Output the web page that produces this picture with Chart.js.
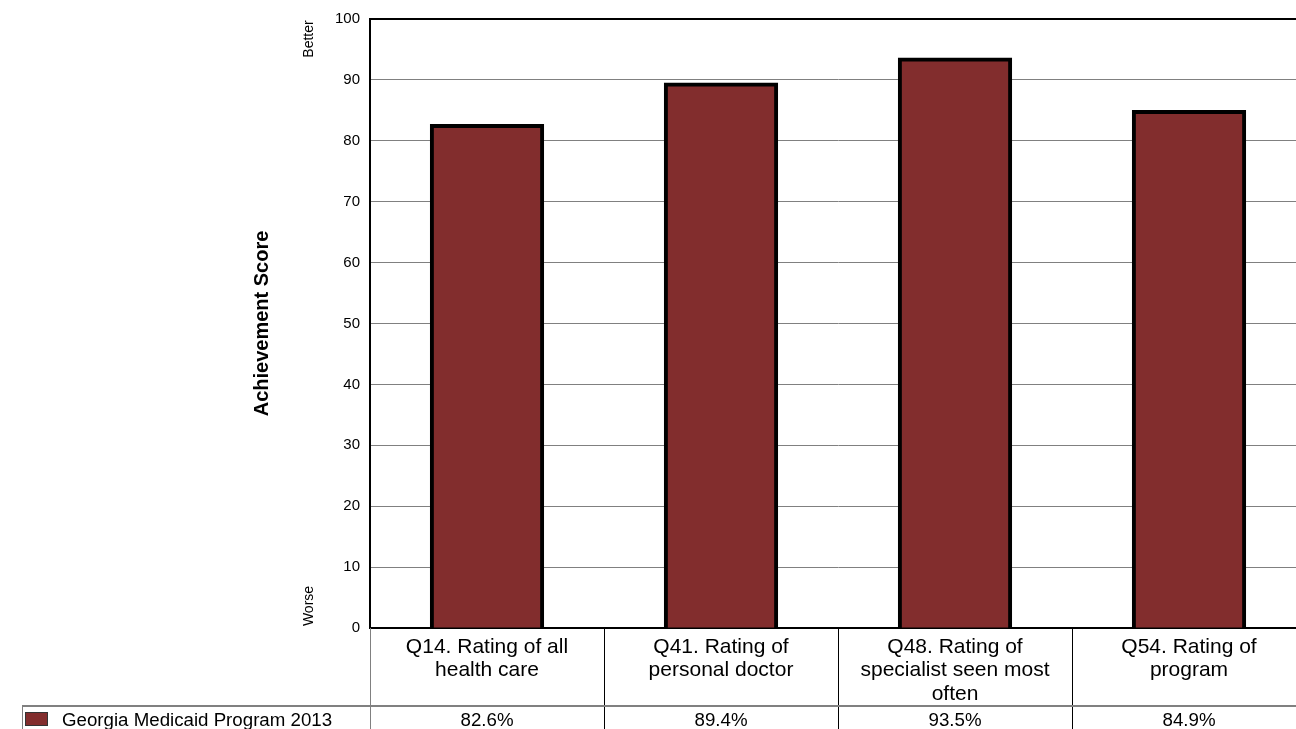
<!DOCTYPE html>
<html>
<head>
<meta charset="utf-8">
<script src="https://cdn.jsdelivr.net/npm/chart.js@4.4.1/dist/chart.umd.min.js"></script>
<style>
  html, body { margin: 0; padding: 0; background: #fff; overflow: hidden; }
  #wrap { width: 1310px; height: 729px; }
</style>
</head>
<body>
<div id="wrap"><canvas id="scoreChart" width="1310" height="729"></canvas></div>
<script>
// Survey items (wrapped onto lines as shown under the axis)
const questions = [
    ['Q14. Rating of all', 'health care'],
    ['Q41. Rating of', 'personal doctor'],
    ['Q48. Rating of', 'specialist seen most', 'often'],
    ['Q54. Rating of', 'program']
];
const seriesName = 'Georgia Medicaid Program 2013';
const scores = [82.6, 89.4, 93.5, 84.9];
const yTicks = [0, 10, 20, 30, 40, 50, 60, 70, 80, 90, 100];

const barColor = '#822d2d';
const fontFamily = 'Arial, "Liberation Sans", sans-serif';

// Table under the plot: column rules, series row and Better/Worse markers
const tablePlugin = {
    id: 'dataTable',
    afterDraw(chart) {
        const { ctx, chartArea, scales } = chart;
        const x = scales.x;
        const h = chart.height;
        const rowTop = 706;
        const half = (x.getPixelForValue(1) - x.getPixelForValue(0)) / 2;

        ctx.save();
        // left axis continues down through the table
        ctx.strokeStyle = '#808080';
        ctx.lineWidth = 1;
        ctx.beginPath();
        ctx.moveTo(chartArea.left + 0.5, chartArea.bottom);
        ctx.lineTo(chartArea.left + 0.5, h);
        ctx.stroke();

        // separators between categories
        ctx.strokeStyle = '#000';
        for (let i = 1; i < questions.length; i++) {
            const px = Math.round(x.getPixelForValue(i) - half) + 0.5;
            ctx.beginPath();
            ctx.moveTo(px, chartArea.bottom);
            ctx.lineTo(px, h);
            ctx.stroke();
        }

        // series row frame
        ctx.strokeStyle = '#808080';
        ctx.lineWidth = 2;
        ctx.beginPath();
        ctx.moveTo(22, rowTop);
        ctx.lineTo(chart.width, rowTop);
        ctx.stroke();
        ctx.lineWidth = 1;
        ctx.beginPath();
        ctx.moveTo(22.5, rowTop);
        ctx.lineTo(22.5, h);
        ctx.stroke();

        // swatch + series name
        ctx.fillStyle = barColor;
        ctx.fillRect(25, 712, 23, 14);
        ctx.strokeStyle = '#333';
        ctx.strokeRect(25.5, 712.5, 22, 13);
        ctx.fillStyle = '#000';
        ctx.font = '18.7px ' + fontFamily;
        ctx.textBaseline = 'middle';
        ctx.textAlign = 'left';
        ctx.fillText(seriesName, 62, 721);

        // values per column
        ctx.textAlign = 'center';
        scores.forEach((v, i) => {
            ctx.fillText(v.toFixed(1) + '%', x.getPixelForValue(i), 721);
        });

        // axis title and direction markers
        const midY = (chartArea.top + chartArea.bottom) / 2;
        ctx.font = 'bold 20px ' + fontFamily;
        ctx.save();
        ctx.translate(chartArea.left - 108, midY);
        ctx.rotate(-Math.PI / 2);
        ctx.fillText('Achievement Score', 0, 0);
        ctx.restore();

        ctx.font = '14px ' + fontFamily;
        ctx.save();
        ctx.translate(chartArea.left - 61, chartArea.top + 20);
        ctx.rotate(-Math.PI / 2);
        ctx.fillText('Better', 0, 0);
        ctx.restore();
        ctx.save();
        ctx.translate(chartArea.left - 61, chartArea.bottom - 22);
        ctx.rotate(-Math.PI / 2);
        ctx.fillText('Worse', 0, 0);
        ctx.restore();

        ctx.restore();
    }
};

const scoreCtx = document.getElementById('scoreChart').getContext('2d');
const scoreChart = new Chart(scoreCtx, {
    type: 'bar',
    data: {
        labels: questions,
        datasets: [{
            label: seriesName,
            data: scores,
            backgroundColor: barColor,
            borderColor: '#000',
            borderWidth: 4,
            inflateAmount: 1,
            categoryPercentage: 1,
            barPercentage: 0.48
        }]
    },
    options: {
        responsive: false,
        animation: false,
        layout: { padding: { top: 18, right: 4, bottom: 0, left: 0 } },
        plugins: {
            legend: { display: false },
            tooltip: { enabled: false }
        },
        scales: {
            x: {
                grid: { display: false },
                border: { display: true, color: '#000', width: 2 },
                ticks: {
                    color: '#000',
                    font: { family: fontFamily, size: 21, lineHeight: 1.1 },
                    padding: 0,
                    maxRotation: 0,
                    autoSkip: false
                },
                afterFit(scale) { scale.height = 101; }
            },
            y: {
                min: 0,
                max: 100,
                afterBuildTicks(scale) { scale.ticks = yTicks.map(v => ({ value: v })); },
                grid: {
                    drawTicks: false,
                    color: c => (c.tick && c.tick.value === 100) ? '#000' : '#808080',
                    lineWidth: c => (c.tick && c.tick.value === 100) ? 2 : 1
                },
                border: { display: true, color: '#000', width: 2 },
                ticks: {
                    color: '#000',
                    font: { family: fontFamily, size: 15 },
                    padding: 10
                },
                afterFit(scale) { scale.width = 370; }
            }
        }
    },
    plugins: [tablePlugin]
});
</script>
</body>
</html>
